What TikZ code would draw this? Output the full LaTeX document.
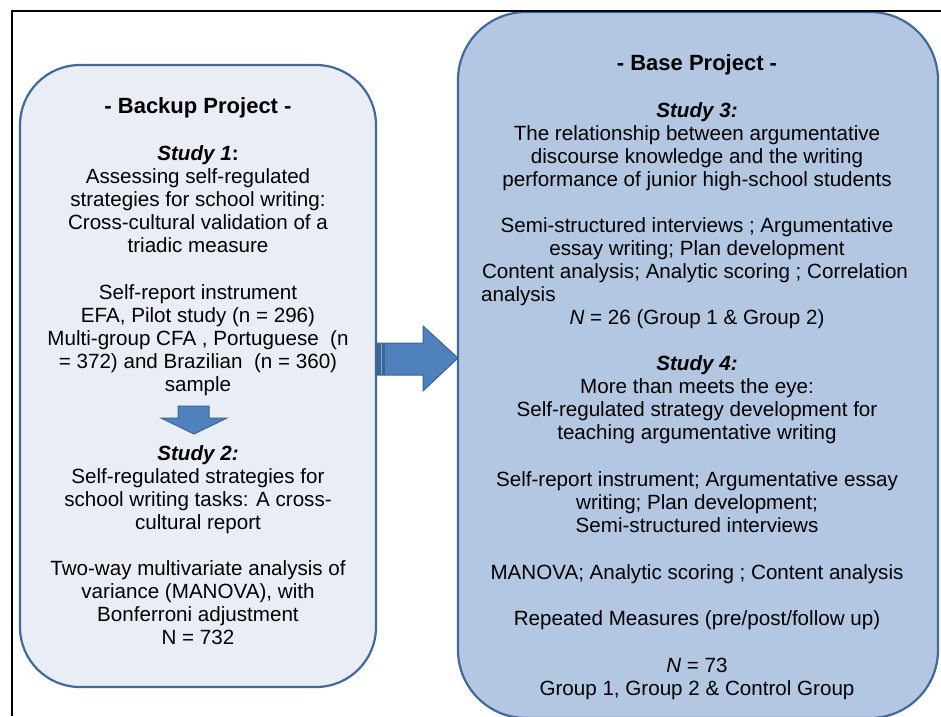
\documentclass[tikz,border=0pt]{standalone}
\usepackage{fontspec}
\setmainfont{Liberation Sans}
\definecolor{edgeblue}{HTML}{41699B}
\definecolor{paleblue}{HTML}{E9EEF6}
\definecolor{softblue}{HTML}{B4C7E2}
\definecolor{arrowblue}{HTML}{4F81BD}
\definecolor{arrowedge}{HTML}{3A6595}
\begin{document}
\begin{tikzpicture}[x=1pt,y=-1pt,
  panel/.style={draw=edgeblue,line width=2.2pt,rounded corners=64pt,inner sep=0pt},
  txt/.style={anchor=base,inner sep=0pt,font=\fontsize{20.6}{23}\selectfont},
  head/.style={anchor=base,inner sep=0pt,font=\fontsize{22}{26}\selectfont\bfseries},
  blockarrow/.style={fill=arrowblue,draw=arrowedge,line width=1pt,line join=miter}]
\useasboundingbox (0,0) rectangle (941,716);

% the two project panels
\node[panel,fill=paleblue,minimum width=356pt,minimum height=622pt,rounded corners=60pt] (backup) at (198,376) {};
\node[panel,fill=softblue,minimum width=480pt,minimum height=706pt,rounded corners=68pt] (base) at (698,365) {};

% outer frame
\draw[line width=2pt] (12,716) -- (12,11) -- (941,11);

% block arrow from the backup panel to the base panel
\draw[blockarrow] (376,343) -- (423,343) -- (423,326) -- (458,358) -- (423,391) -- (423,375) -- (376,375) -- cycle;
\fill[arrowedge] (376,343.5) rectangle (385,374.5);
\draw[arrowblue!70!white,line width=0.8pt] (381,344) -- (381,374);

% down arrow between study 1 and study 2
\draw[blockarrow] (178,406) -- (209,406) -- (209,418) -- (227,418) -- (194,434) -- (161,418) -- (178,418) -- cycle;

% backup project text
\node[head] (bh) at (198,113) {- Backup Project -};
\node[txt] (b1) at (198,160) {\textbf{\textit{Study 1}:}};
\node[txt] (b2) at (198,183) {Assessing self-regulated};
\node[txt] (b3) at (198,206) {strategies for school writing:};
\node[txt] (b4) at (198,229) {Cross-cultural validation of a};
\node[txt] (b5) at (198,252) {triadic measure};
\node[txt] (b6) at (198,299) {Self-report instrument};
\node[txt] (b7) at (198,322) {EFA, Pilot study (n = 296)};
\node[txt] (b8) at (198,345) {Multi-group CFA , Portuguese~ (n};
\node[txt] (b9) at (198,368) {= 372) and Brazilian~ (n = 360)};
\node[txt] (b10) at (198,391) {sample};
\node[txt] (b11) at (198,460) {\textbf{\textit{Study 2:}}};
\node[txt] (b12) at (198,483) {Self-regulated strategies for};
\node[txt] (b13) at (198,506) {school writing tasks: A cross-};
\node[txt] (b14) at (198,529) {cultural report};
\node[txt] (b15) at (198,575) {Two-way multivariate analysis of};
\node[txt] (b16) at (198,598) {variance (MANOVA), with};
\node[txt] (b17) at (198,621) {Bonferroni adjustment};
\node[txt] (b18) at (198,644) {N = 732};

% base project text
\node[head] (ah) at (697,70) {- Base Project -};
\node[txt] (a1) at (697,117) {\textbf{\textit{Study 3:}}};
\node[txt] (a2) at (697,140) {The relationship between argumentative};
\node[txt] (a3) at (697,163) {discourse knowledge and the writing};
\node[txt] (a4) at (697,186) {performance of junior high-school students};
\node[txt] (a5) at (697,232) {Semi-structured interviews ; Argumentative};
\node[txt] (a6) at (697,255) {essay writing; Plan development};
\node[txt] (a7) at (695,278) {Content analysis; Analytic scoring ; Correlation};
\node[txt,anchor=base west] (a8) at (481,301) {analysis};
\node[txt] (a9) at (697,324) {\textit{N} = 26 (Group 1 \& Group 2)};
\node[txt] (a10) at (697,370) {\textbf{\textit{Study 4:}}};
\node[txt] (a11) at (697,393) {More than meets the eye:};
\node[txt] (a12) at (697,416) {Self-regulated strategy development for};
\node[txt] (a13) at (697,439) {teaching argumentative writing};
\node[txt] (a14) at (697,486) {Self-report instrument; Argumentative essay};
\node[txt] (a15) at (697,509) {writing; Plan development;};
\node[txt] (a16) at (697,532) {Semi-structured interviews};
\node[txt] (a17) at (697,579) {MANOVA; Analytic scoring ; Content analysis};
\node[txt] (a18) at (697,625) {Repeated Measures (pre/post/follow up)};
\node[txt] (a19) at (697,672) {\textit{N} = 73};
\node[txt] (a20) at (697,695) {Group 1, Group 2 \& Control Group};
\end{tikzpicture}
\end{document}
